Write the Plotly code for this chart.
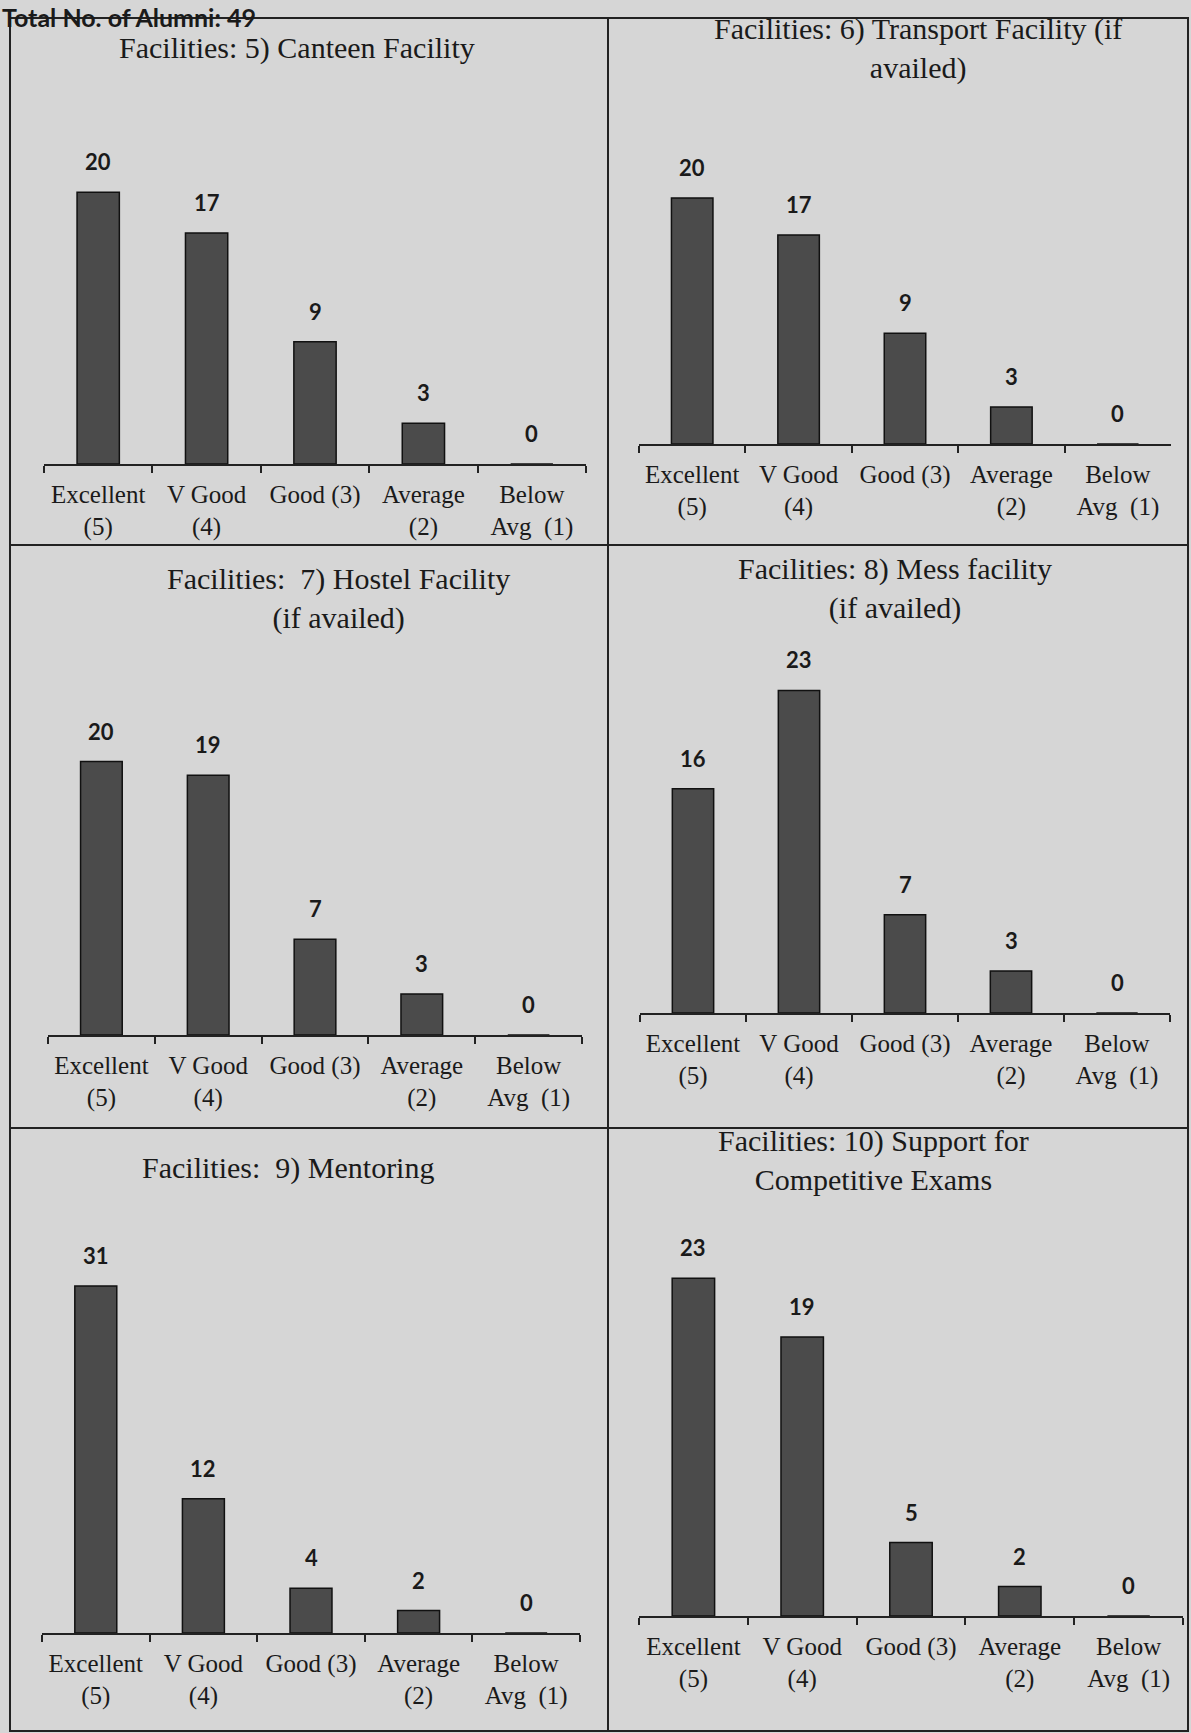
import plotly.graph_objects as go

W, H = 1191, 1733

categories = ["Excellent (5)", "V Good (4)", "Good (3)", "Average (2)", "Below Avg (1)"]
tick_labels = ["Excellent<br>(5)", "V Good<br>(4)", "Good (3)", "Average<br>(2)", "Below<br>Avg  (1)"]

canteen = [20, 17, 9, 3, 0]
transport = [20, 17, 9, 3, 0]
hostel = [20, 19, 7, 3, 0]
mess = [16, 23, 7, 3, 0]
mentoring = [31, 12, 4, 2, 0]
competitive = [23, 19, 5, 2, 0]

titles = [
    "Facilities: 5) Canteen Facility",
    "Facilities: 6) Transport Facility (if<br>availed)",
    "Facilities:  7) Hostel Facility<br>(if availed)",
    "Facilities: 8) Mess facility<br>(if availed)",
    "Facilities:  9) Mentoring",
    "Facilities: 10) Support for<br>Competitive Exams",
]
series = [canteen, transport, hostel, mess, mentoring, competitive]

# layout geometry in pixels: axis x-left, x-right, baseline, domain top, y range max, title centre y, title centre x
geo = [
    (44, 586, 464, 150, 23.1, 48, 297),
    (639, 1171, 444, 150, 23.9, 48, 918),
    (48, 582, 1035, 700, 24.5, 598, 338),
    (640, 1170, 1013, 640, 26.6, 588, 895),
    (42, 580, 1633, 1240, 35.1, 1168, 288),
    (639, 1183, 1616, 1240, 25.6, 1160, 873),
]

def px(x):
    return x / W

def py(y):
    return 1 - y / H

SERIF = "Liberation Serif, Times New Roman, serif"
SANS = "Lato, Carlito, Calibri, sans-serif"
BG = "#d6d6d6"

fig = go.Figure()
annotations = []
for i, (vals, title, g) in enumerate(zip(series, titles, geo)):
    xl, xr, base, top, ymax, ty, tx = g
    n = "" if i == 0 else str(i + 1)
    fig.add_trace(go.Bar(
        x=categories, y=vals, xaxis="x" + n, yaxis="y" + n,
        width=0.39,
        marker=dict(color="#4b4b4b", line=dict(color="#111111", width=1.5)),
        showlegend=False, hoverinfo="x+y",
    ))
    for c, v in zip(categories, vals):
        annotations.append(dict(
            x=c, y=v, xref="x" + n, yref="y" + n, text=str(v), showarrow=False,
            yanchor="bottom", yshift=15,
            font=dict(family=SANS, size=22, color="#1a1a1a", weight="bold"),
        ))
    fig.layout["xaxis" + n] = dict(
        domain=[px(xl), px(xr)], anchor="y" + n,
        tickmode="array", tickvals=categories, ticktext=tick_labels,
        tickson="boundaries", ticks="outside", ticklen=7, tickwidth=1.5, tickcolor="#222",
        ticklabelstandoff=7,
        showline=True, linecolor="#222", linewidth=1.5,
        tickfont=dict(family=SERIF, size=25, color="#1a1a1a"),
        showgrid=False, zeroline=False, fixedrange=True,
    )
    fig.layout["yaxis" + n] = dict(
        domain=[py(base), py(top)], anchor="x" + n, range=[0, ymax],
        visible=False, showgrid=False, zeroline=False, fixedrange=True,
    )
    annotations.append(dict(
        x=px(tx), y=py(ty), xref="paper", yref="paper", text=title, showarrow=False,
        font=dict(family=SERIF, size=30, color="#1a1a1a"), xanchor="center", yanchor="middle",
        align="center",
    ))

annotations.append(dict(
    x=px(0), y=py(0), xref="paper", yref="paper", text="Total No. of Alumni: 49",
    showarrow=False, xanchor="left", yanchor="top",
    font=dict(family=SANS, size=25, color="#1a1a1a", weight="bold"),
))

line = dict(color="#222222", width=2)
shapes = [
    dict(type="rect", xref="paper", yref="paper", x0=px(10), x1=px(1188), y0=py(1731), y1=py(18), line=line),
    dict(type="line", xref="paper", yref="paper", x0=px(608), x1=px(608), y0=py(1731), y1=py(18), line=line),
    dict(type="line", xref="paper", yref="paper", x0=px(10), x1=px(1188), y0=py(545), y1=py(545), line=line),
    dict(type="line", xref="paper", yref="paper", x0=px(10), x1=px(1188), y0=py(1128), y1=py(1128), line=line),
]

fig.update_layout(
    width=W, height=H, margin=dict(l=0, r=0, t=0, b=0),
    paper_bgcolor=BG, plot_bgcolor=BG,
    annotations=annotations, shapes=shapes, showlegend=False,
)

fig.write_html(
    "out.html",
    config={"displayModeBar": False},
    post_script="document.body.style.margin='0';document.body.style.overflow='hidden';",
)
